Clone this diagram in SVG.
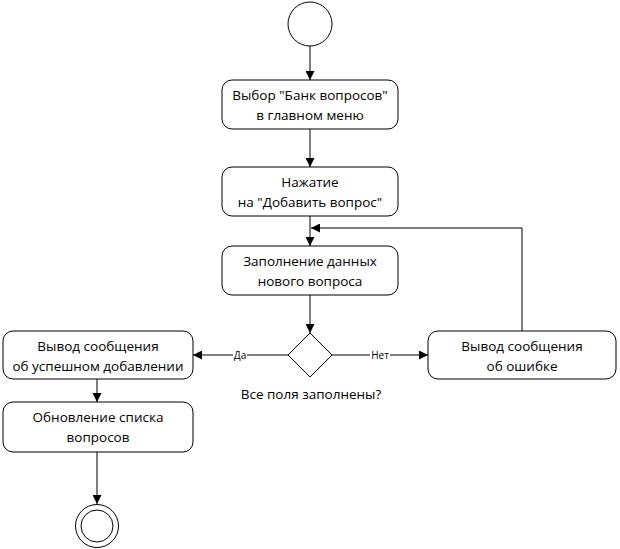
<svg xmlns="http://www.w3.org/2000/svg" width="620" height="549" viewBox="0 0 620 549">
  <style>
    .node { fill: #ffffff; stroke: #000000; stroke-width: 1; }
    .edge { fill: none; stroke: #000000; stroke-width: 1; }
    .txt { font-family: "Open Sans", "Noto Sans", sans-serif; font-size: 13.5px; fill: #000000; text-anchor: middle; }
    .lbl { font-family: "Open Sans", "Noto Sans", sans-serif; font-size: 10px; fill: #000000; text-anchor: middle; }
  </style>
  <defs>
    <marker id="arrow" viewBox="0 0 10 10" refX="10" refY="5" markerWidth="9" markerHeight="9" markerUnits="userSpaceOnUse" orient="auto">
      <path d="M0,0 L10,5 L0,10 Z" fill="#000000"/>
    </marker>
  </defs>
  <rect width="620" height="549" fill="#ffffff"/>

  <g id="connectors">
    <line class="edge" x1="310" y1="46" x2="310" y2="80" marker-end="url(#arrow)"/>
    <line class="edge" x1="310" y1="129" x2="310" y2="167" marker-end="url(#arrow)"/>
    <line class="edge" x1="310" y1="216" x2="310" y2="246" marker-end="url(#arrow)"/>
    <line class="edge" x1="310" y1="295" x2="310" y2="333" marker-end="url(#arrow)"/>
    <line class="edge" x1="288" y1="355" x2="193" y2="355" marker-end="url(#arrow)"/>
    <line class="edge" x1="332" y1="355" x2="428" y2="355" marker-end="url(#arrow)"/>
    <polyline class="edge" points="522,331 522,228 311,228" marker-end="url(#arrow)"/>
    <line class="edge" x1="97" y1="379" x2="97" y2="402" marker-end="url(#arrow)"/>
    <line class="edge" x1="97" y1="452" x2="97" y2="504" marker-end="url(#arrow)"/>
    <rect x="233" y="349" width="14" height="12" fill="#ffffff"/>
    <text class="lbl" x="240" y="359">Да</text>
    <rect x="370" y="349" width="20" height="12" fill="#ffffff"/>
    <text class="lbl" x="380" y="359">Нет</text>
  </g>

  <g id="start">
    <circle class="node" cx="310" cy="24" r="22"/>
  </g>

  <g id="choose-bank">
    <rect class="node" x="222" y="80" width="176" height="49" rx="10"/>
    <text class="txt" x="310" y="100">Выбор "Банк вопросов"</text>
    <text class="txt" x="310" y="120">в главном меню</text>
  </g>

  <g id="press-add">
    <rect class="node" x="222" y="167" width="176" height="49" rx="10"/>
    <text class="txt" x="310" y="187">Нажатие</text>
    <text class="txt" x="310" y="207">на "Добавить вопрос"</text>
  </g>

  <g id="fill-data">
    <rect class="node" x="222" y="246" width="176" height="49" rx="10"/>
    <text class="txt" x="310" y="266">Заполнение данных</text>
    <text class="txt" x="310" y="286">нового вопроса</text>
  </g>

  <g id="decision">
    <polygon class="node" points="310,333 332,355 310,377 288,355"/>
    <text class="txt" x="311" y="399">Все поля заполнены?</text>
  </g>

  <g id="success-msg">
    <rect class="node" x="3" y="331" width="190" height="48" rx="10"/>
    <text class="txt" x="98" y="351">Вывод сообщения</text>
    <text class="txt" x="98" y="371">об успешном добавлении</text>
  </g>

  <g id="error-msg">
    <rect class="node" x="428" y="331" width="188" height="48" rx="10"/>
    <text class="txt" x="522" y="351">Вывод сообщения</text>
    <text class="txt" x="522" y="371">об ошибке</text>
  </g>

  <g id="refresh-list">
    <rect class="node" x="3" y="402" width="190" height="50" rx="10"/>
    <text class="txt" x="98" y="422">Обновление списка</text>
    <text class="txt" x="98" y="442">вопросов</text>
  </g>

  <g id="end">
    <circle class="node" cx="97" cy="526" r="21.5"/>
    <circle class="node" cx="97" cy="526" r="16"/>
  </g>
</svg>
